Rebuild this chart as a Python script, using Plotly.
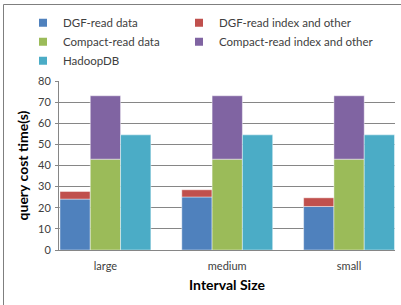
import plotly.graph_objects as go

categories = ["large", "medium", "small"]
dgf_data = [24.1, 25.1, 20.6]
dgf_index = [3.6, 3.4, 4.1]
compact_data = [43.0, 43.0, 43.0]
compact_index = [30.0, 30.0, 30.0]
hadoopdb = [54.5, 54.5, 54.5]
y_ticks = [0, 10, 20, 30, 40, 50, 60, 70, 80]

names = ["DGF-read data", "DGF-read index and other", "Compact-read data",
         "Compact-read index and other", "HadoopDB"]
colors = ["#4F81BD", "#C0504D", "#9BBB59", "#8064A2", "#4BACC6"]
legend_col = ["legend", "legend2", "legend", "legend2", "legend"]

FONT = "Lato"
line = dict(color="rgba(255,255,255,0.55)", width=0.8)

fig = go.Figure()
fig.add_trace(go.Bar(x=categories, y=dgf_data, offsetgroup="dgf",
                     marker=dict(color=colors[0], line=line), showlegend=False))
fig.add_trace(go.Bar(x=categories, y=dgf_index, base=dgf_data, offsetgroup="dgf",
                     marker=dict(color=colors[1], line=line), showlegend=False))
fig.add_trace(go.Bar(x=categories, y=compact_data, offsetgroup="compact",
                     marker=dict(color=colors[2], line=line), showlegend=False))
fig.add_trace(go.Bar(x=categories, y=compact_index, base=compact_data, offsetgroup="compact",
                     marker=dict(color=colors[3], line=line), showlegend=False))
fig.add_trace(go.Bar(x=categories, y=hadoopdb, offsetgroup="hadoop",
                     marker=dict(color=colors[4], line=line), showlegend=False))

# legend entries with small square swatches, in two columns
for n, c, lg in zip(names, colors, legend_col):
    fig.add_trace(go.Scatter(x=[None], y=[None], mode="markers", name=n, legend=lg,
                             marker=dict(symbol="square", size=8, color=c)))

legend_common = dict(orientation="v", xanchor="left", yanchor="top", y=1.43,
                     itemwidth=30, tracegroupgap=0, traceorder="normal",
                     bgcolor="rgba(0,0,0,0)",
                     font=dict(family=FONT, size=11.5, color="#404040"))

fig.update_layout(
    width=401, height=305,
    margin=dict(l=59, r=6, t=81, b=55, autoexpand=False),
    paper_bgcolor="white", plot_bgcolor="white",
    barmode="group", bargap=0.254, bargroupgap=0,
    font=dict(family=FONT, size=11, color="#404040"),
    legend=dict(x=(23 - 59) / 336, **legend_common),
    legend2=dict(x=(179 - 59) / 336, **legend_common),
    showlegend=True,
)
fig.update_xaxes(type="category", range=[-0.381, 2.377], automargin=False,
                 showline=True, linecolor="#868686", linewidth=1,
                 ticks="", showgrid=False, ticklabelstandoff=6,
                 tickfont=dict(family=FONT, size=11, color="#404040"),
                 title=dict(text="<b>Interval Size</b>", standoff=8,
                            font=dict(family=FONT, size=14, color="#000000")))
fig.update_yaxes(range=[0, 80], tickvals=y_ticks, automargin=False,
                 showline=True, linecolor="#868686", linewidth=1,
                 ticks="outside", ticklen=3, tickcolor="#868686",
                 showgrid=True, gridcolor="#868686", gridwidth=1, zeroline=False,
                 ticklabelstandoff=2,
                 tickfont=dict(family=FONT, size=11, color="#404040"),
                 title=dict(text="<b>query cost time(s)</b>", standoff=6,
                            font=dict(family=FONT, size=14, color="#000000")))

# outer chart border (cropped on right and bottom)
border_x = (3.5 - 59) / 336
border_y = (250 - 4.5) / 169
fig.add_shape(type="line", xref="paper", yref="paper", layer="above",
              x0=border_x, x1=border_x, y0=border_y, y1=(250 - 310) / 169,
              line=dict(color="#7F7F7F", width=1))
fig.add_shape(type="line", xref="paper", yref="paper", layer="above",
              x0=border_x, x1=(410 - 59) / 336, y0=border_y, y1=border_y,
              line=dict(color="#7F7F7F", width=1))

fig.write_html("out.html", config={"displayModeBar": False},
               post_script="document.body.style.margin='0';document.body.style.overflow='hidden';")
